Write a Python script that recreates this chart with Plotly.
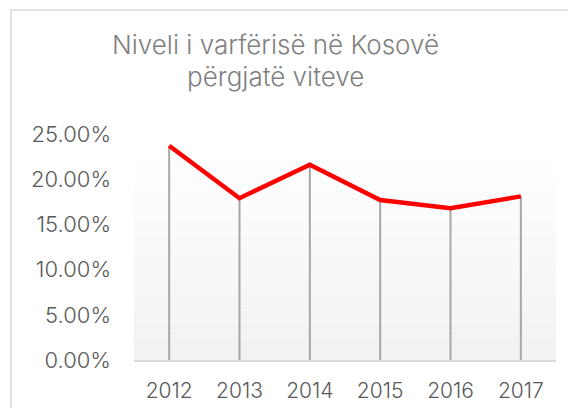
import plotly.graph_objects as go

years = ["2012", "2013", "2014", "2015", "2016", "2017"]
poverty = [0.237, 0.179, 0.216, 0.177, 0.168, 0.181]
title_lines = ["Niveli i varfërisë në Kosovë", "përgjatë viteve"]

font_family = "Inter"
text_grey = "#595959"

fig = go.Figure()

# grey drop lines from each point down to the axis
fig.add_trace(go.Scatter(
    x=years, y=poverty, mode="markers",
    marker=dict(opacity=0, size=1),
    error_y=dict(type="data", symmetric=False, array=[0] * len(poverty),
                 arrayminus=poverty, width=0, thickness=2, color="#a6a6a6"),
    hoverinfo="skip", showlegend=False))

fig.add_trace(go.Scatter(
    x=years, y=poverty, mode="lines",
    line=dict(color="#ff0000", width=4.5),
    showlegend=False))

# vertical gradient of the plot area, built from thin bands
shapes = []
n_bands = 40
top = 0.88
for i in range(n_bands):
    t = i / n_bands
    c = int(242 + (255 - 242) * t)
    shapes.append(dict(type="rect", xref="paper", yref="paper",
                       x0=0, x1=1, y0=top * t, y1=top * (i + 1) / n_bands,
                       fillcolor=f"rgb({c},{c},{c})", line=dict(width=0),
                       layer="below"))
# chart frame
shapes.append(dict(type="rect", xref="paper", yref="paper",
                   x0=-0.2915, x1=2, y0=-1, y1=1.549,
                   line=dict(color="#d9d9d9", width=1.5), layer="below"))

annotations = []
for i, line in enumerate(title_lines):
    annotations.append(dict(
        text=line, xref="paper", yref="paper",
        x=(275 - 134) / 422, y=(360 - 44 - 33 * i) / 226,
        xanchor="center", yanchor="middle", showarrow=False,
        font=dict(family=font_family, size=26, color="#7f7f7f", weight=300)))

# page body has an 8px margin, so the figure is drawn 8px in from the corner
fig.update_layout(
    width=568, height=400,
    margin=dict(l=126, r=20, t=126, b=48),
    paper_bgcolor="white", plot_bgcolor="rgba(0,0,0,0)",
    shapes=shapes, annotations=annotations,
    font=dict(family=font_family, color=text_grey, weight=300),
)
fig.update_xaxes(
    type="category", range=[-0.5, 5.5], showgrid=False, automargin=False,
    showline=True, linecolor="#d9d9d9", linewidth=2,
    ticks="", tickfont=dict(size=21, color=text_grey, weight=300),
    ticklabelstandoff=11, fixedrange=True)
fig.update_yaxes(
    range=[0, 0.25], dtick=0.05, tickformat=".2%", showgrid=False,
    automargin=False, zeroline=False, showline=False, ticks="",
    tickfont=dict(size=22, color=text_grey, weight=300),
    ticklabelstandoff=22, fixedrange=True)

fig.write_html("out.html")
